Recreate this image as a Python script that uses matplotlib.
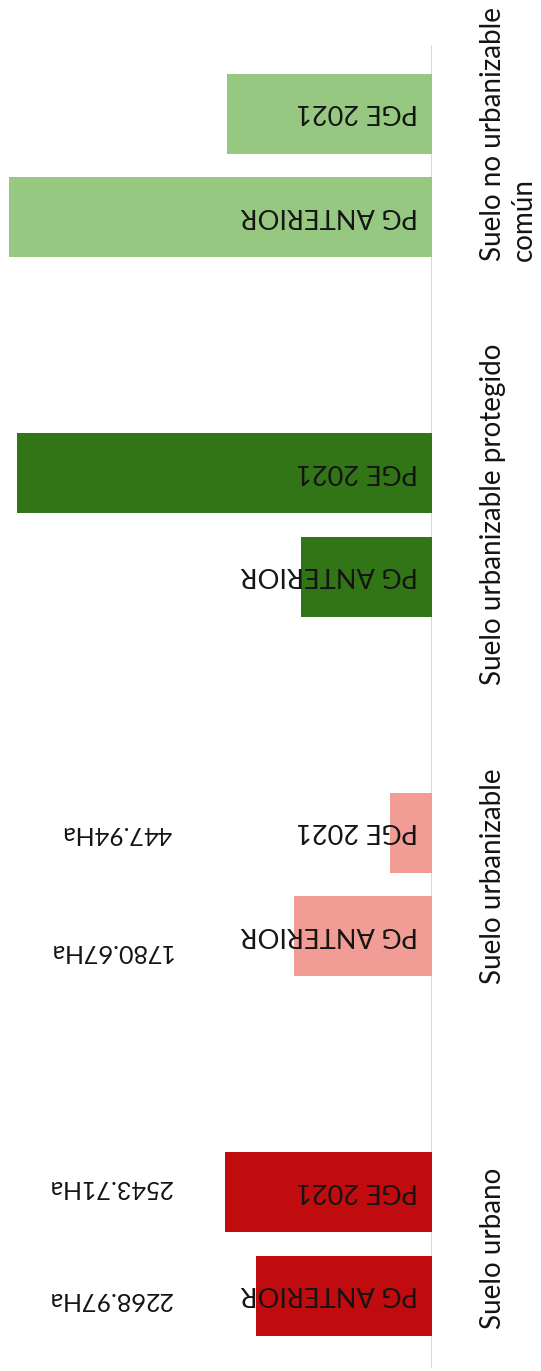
import matplotlib
matplotlib.use("Agg")
import matplotlib.pyplot as plt

plt.rcParams['font.family'] = ['Lato', 'DejaVu Sans']

# ---- data ----
categories = ["Suelo urbano", "Suelo urbanizable",
              "Suelo urbanizable protegido", "Suelo no urbanizable\ncomún"]
series_names = ["PG ANTERIOR", "PGE 2021"]
# bar lengths (Ha)
pg_anterior = [2269, 1781, 1692, 5448]
pge_2021 = [2662, 537, 5341, 2644]
# value labels shown in the chart (only first two categories)
label_anterior = ["2268.97Ha", "1780.67Ha", None, None]
label_pge = ["2543.71Ha", "447.94Ha", None, None]

# ---- style ----
colors = ["#C00B0F", "#F19C94", "#317516", "#97C882"]
W, H = 541, 1371
fig = plt.figure(figsize=(W / 100, H / 100), dpi=100)
ax = fig.add_axes([0, 0, 432 / W, 1])
ax.set_xlim(5564, 0)
ax.set_ylim(-0.3533, 3.4604)
ax.axis('off')

off = 0.1438
bh = 0.2225
idx = list(range(len(categories)))
y_ant = [i - off for i in idx]
y_pge = [i + off for i in idx]

ax.barh(y_ant, pg_anterior, height=bh, color=colors, zorder=2)
ax.barh(y_pge, pge_2021, height=bh, color=colors, zorder=2)

ax.axvline(0, ymin=1 - 1367 / H, ymax=1 - 46 / H, color="#d9d9d9", lw=1.5, zorder=1)

txt_color = "#141414"
bar_fs = 19.5
for ys, name in ((y_ant, series_names[0]), (y_pge, series_names[1])):
    for y in ys:
        ax.annotate(name, xy=(0, y), xytext=(-14.5, 2), textcoords='offset pixels',
                    rotation=180, ha='right', va='center', fontsize=bar_fs,
                    color=txt_color, zorder=3, annotation_clip=False)

val_dy_ant = [-4, -15, 0, 0]
val_dy_pge = [5, -1, 0, 0]
for ys, labs, dys in ((y_ant, label_anterior, val_dy_ant), (y_pge, label_pge, val_dy_pge)):
    for y, lab, dy in zip(ys, labs, dys):
        if lab is None:
            continue
        ax.annotate(lab, xy=(0, y), xytext=(-260, dy), textcoords='offset pixels',
                    rotation=180, ha='right', va='center', fontsize=18,
                    color=txt_color, annotation_clip=False)

cat_dy = [-4, 8, 11, 32]
for i, cat in enumerate(categories):
    ax.annotate(cat, xy=(0, i), xytext=(48, cat_dy[i]), textcoords='offset pixels',
                rotation=90, ha='left', va='center', fontsize=20,
                multialignment='left', linespacing=1.25,
                color=txt_color, annotation_clip=False)

fig.savefig("out.png", dpi=100)
